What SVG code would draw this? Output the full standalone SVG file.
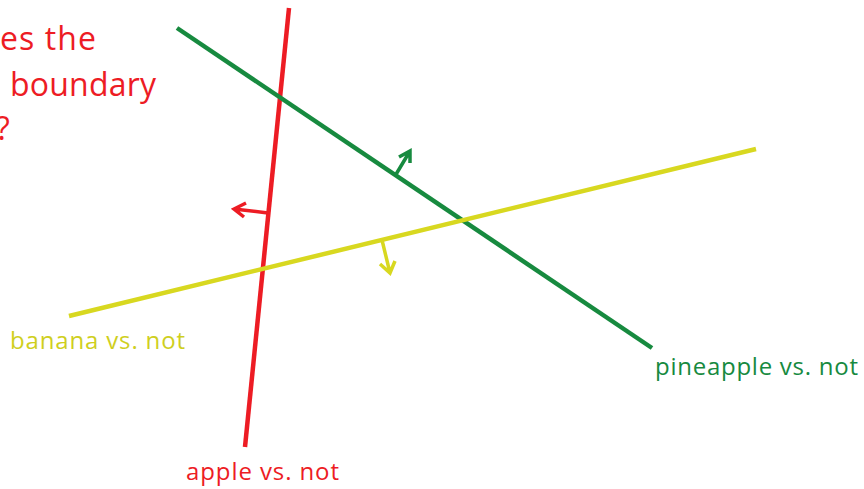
<svg xmlns="http://www.w3.org/2000/svg" width="864" height="489" viewBox="0 0 864 489">
<style>
.t{font-family:"Open Sans","Liberation Sans",sans-serif}
.ln{stroke-width:4.5;fill:none;stroke-linecap:butt}
.ar{stroke-width:3.5;fill:none;stroke-linecap:butt;stroke-linejoin:miter}
.r{stroke:#ed1c24}.g{stroke:#178a3f}.y{stroke:#d8d820}
</style>
<rect width="864" height="489" fill="#fff"/>
<g id="title" class="t" fill="#ed1c24" font-size="32">
<text x="0" y="50" textLength="96">es the</text>
<text x="10" y="96" textLength="146">boundary</text>
<text x="-4" y="140">?</text>
</g>
<g id="connectors">
<line class="ln r" x1="289" y1="8" x2="245" y2="447"/>
<line class="ln g" x1="177" y1="28" x2="652" y2="348"/>
<line class="ln y" x1="69" y1="316" x2="756" y2="149"/>
<path class="ar r" d="M268,213 L234,209 M246,203 L234,209 L244,217"/>
<path class="ar g" d="M395,176 L410,151 M399,157 L410,151 L410,163"/>
<path class="ar y" d="M382,240 L390,273 M380,264 L390,273 L395,261"/>
</g>
<g id="banana" class="t"><text x="10" y="349" font-size="24" fill="#cfcf1e" textLength="175">banana vs. not</text></g>
<g id="pineapple" class="t"><text x="655" y="375" font-size="24" fill="#178a3f" textLength="203">pineapple vs. not</text></g>
<g id="apple" class="t"><text x="186" y="480" font-size="24" fill="#ed1c24" textLength="153">apple vs. not</text></g>
</svg>
